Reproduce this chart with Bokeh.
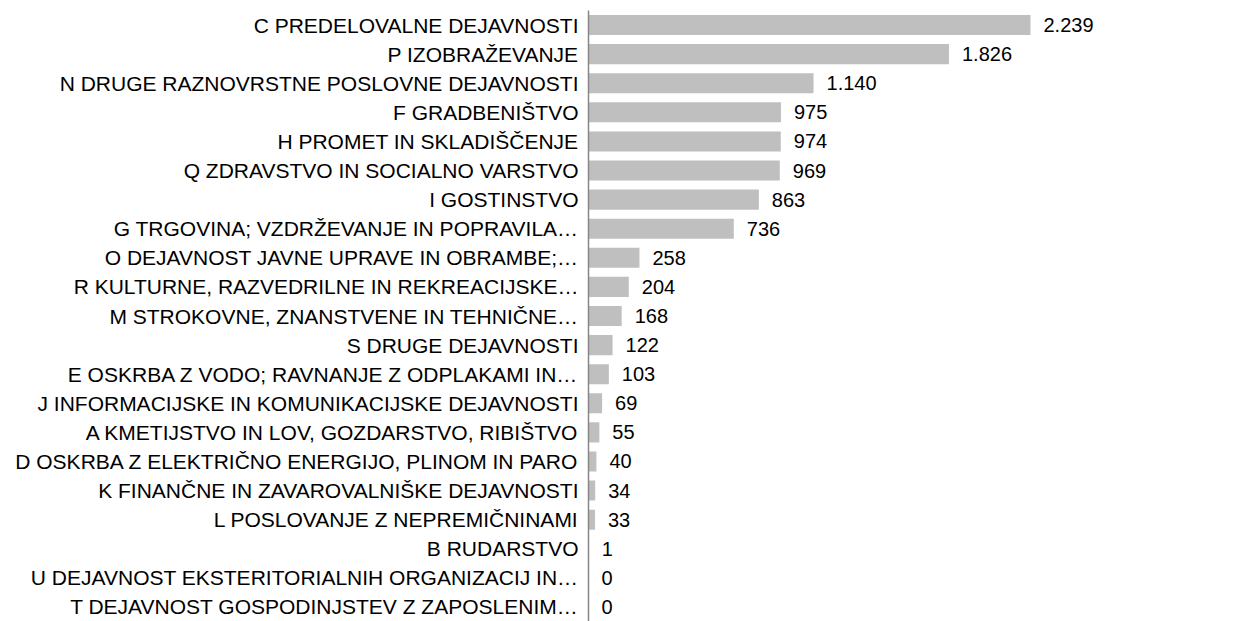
from bokeh.plotting import figure
from bokeh.models import ColumnDataSource, FactorRange, Range1d, LabelSet
from bokeh.core.properties import value
from bokeh.embed import file_html
from bokeh.resources import INLINE

categories = [
    "C PREDELOVALNE DEJAVNOSTI",
    "P IZOBRAŽEVANJE",
    "N DRUGE RAZNOVRSTNE POSLOVNE DEJAVNOSTI",
    "F GRADBENIŠTVO",
    "H PROMET IN SKLADIŠČENJE",
    "Q ZDRAVSTVO IN SOCIALNO VARSTVO",
    "I GOSTINSTVO",
    "G TRGOVINA; VZDRŽEVANJE IN POPRAVILA…",
    "O DEJAVNOST JAVNE UPRAVE IN OBRAMBE;…",
    "R KULTURNE, RAZVEDRILNE IN REKREACIJSKE…",
    "M STROKOVNE, ZNANSTVENE IN TEHNIČNE…",
    "S DRUGE DEJAVNOSTI",
    "E OSKRBA Z VODO; RAVNANJE Z ODPLAKAMI IN…",
    "J INFORMACIJSKE IN KOMUNIKACIJSKE DEJAVNOSTI",
    "A KMETIJSTVO IN LOV, GOZDARSTVO, RIBIŠTVO",
    "D OSKRBA Z ELEKTRIČNO ENERGIJO, PLINOM IN PARO",
    "K FINANČNE IN ZAVAROVALNIŠKE DEJAVNOSTI",
    "L POSLOVANJE Z NEPREMIČNINAMI",
    "B RUDARSTVO",
    "U DEJAVNOST EKSTERITORIALNIH ORGANIZACIJ IN…",
    "T DEJAVNOST GOSPODINJSTEV Z ZAPOSLENIM…",
]
values = [2239, 1826, 1140, 975, 974, 969, 863, 736, 258, 204, 168, 122, 103,
          69, 55, 40, 34, 33, 1, 0, 0]
value_labels = ["2.239", "1.826", "1.140", "975", "974", "969", "863", "736",
                "258", "204", "168", "122", "103", "69", "55", "40", "34", "33",
                "1", "0", "0"]

FONT = "Liberation Sans"

src = ColumnDataSource(dict(cat=categories, val=values, lab=value_labels))

p = figure(
    width=1242, height=621,
    y_range=FactorRange(*reversed(categories), range_padding=0),
    x_range=Range1d(0, 3313),
    output_backend="svg", toolbar_location=None,
    min_border_left=588, min_border_right=0, min_border_top=10, min_border_bottom=0,
)
p.hbar(y="cat", right="val", height=0.69, source=src, color="#BFBFBF", line_color=None)

labels = LabelSet(x="val", y="cat", text="lab", source=src, x_offset=13,
                  text_baseline="middle", text_font_size="20px", text_font=value(FONT),
                  text_color="#000000")
p.add_layout(labels)

p.xaxis.visible = False
p.xgrid.visible = False
p.ygrid.visible = False
p.outline_line_color = None
p.background_fill_color = "white"
p.border_fill_color = "white"

ax = p.yaxis[0]
ax.axis_line_color = "#868686"
ax.axis_line_width = 1.5
ax.major_tick_line_color = None
ax.minor_tick_line_color = None
ax.major_tick_out = 0
ax.major_tick_in = 0
ax.major_label_standoff = 10
ax.major_label_text_font = FONT
ax.major_label_text_font_size = "21px"
ax.major_label_text_color = "#000000"

open("out.html", "w").write(file_html(p, INLINE))
